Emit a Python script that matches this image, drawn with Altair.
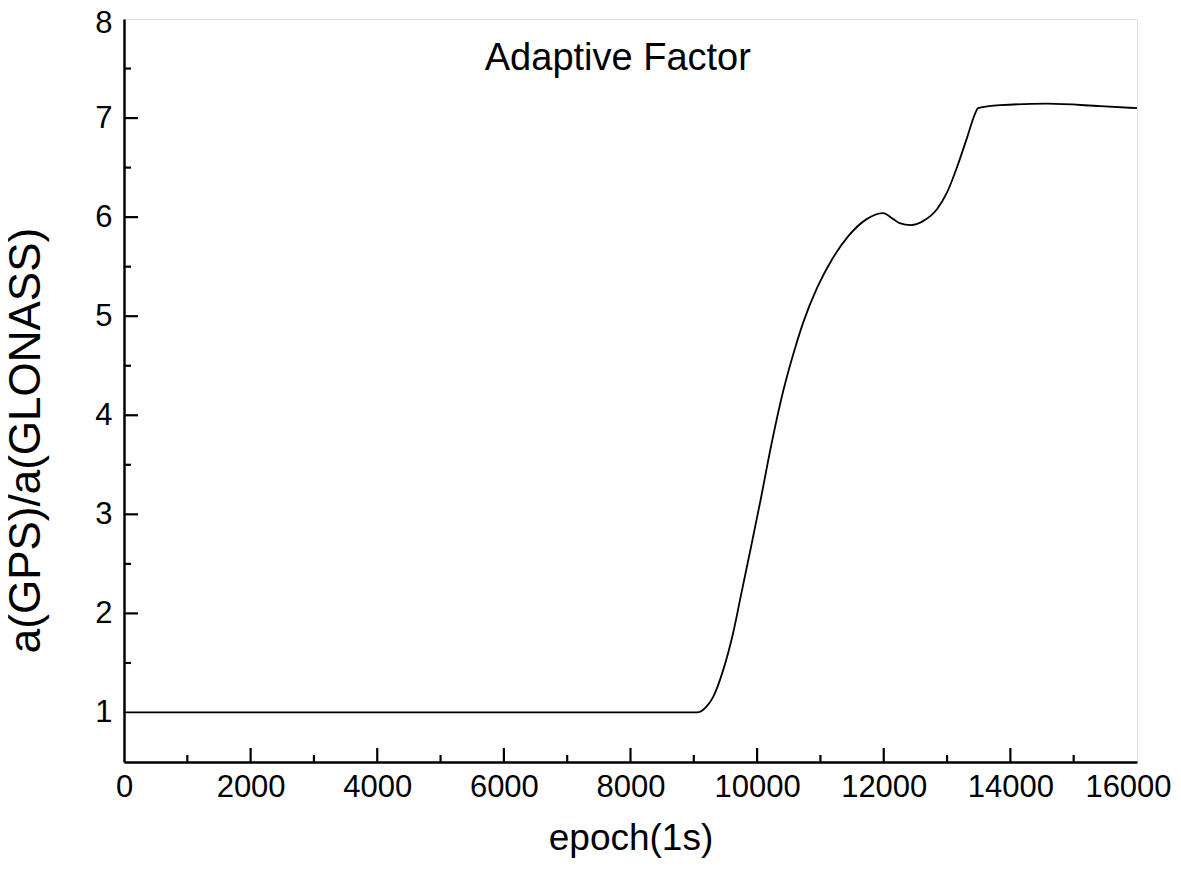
import altair as alt
import pandas as pd

epoch = [0, 2000, 4000, 6000, 8000, 9000, 9050, 9200, 9300, 9460, 9620, 9750, 9900,
         10050, 10230, 10410, 10600, 10730, 10950, 11180, 11430, 11730, 11990,
         12150, 12250, 12430, 12620, 12840, 13000, 13160, 13320, 13440, 13490,
         13840, 14580, 15420, 16000]
ratio = [1.0, 1.0, 1.0, 1.0, 1.0, 1.0, 1.0, 1.06, 1.15, 1.42, 1.80, 2.20, 2.66,
         3.13, 3.72, 4.24, 4.68, 4.94, 5.29, 5.57, 5.80, 5.98, 6.04,
         5.98, 5.94, 5.92, 5.96, 6.08, 6.25, 6.51, 6.81, 7.04, 7.10,
         7.13, 7.145, 7.12, 7.10]

x_major = [0, 2000, 4000, 6000, 8000, 10000, 12000, 14000, 16000]
x_minor = [1000, 3000, 5000, 7000, 9000, 11000, 13000, 15000]
y_major = [1, 2, 3, 4, 5, 6, 7, 8]
y_minor = [1.5, 2.5, 3.5, 4.5, 5.5, 6.5, 7.5]

title_text = ["Adaptive Factor"]
title_pos = [(7800, 7.6)]

W, H = 1013, 743
FONT = "Liberation Sans"

df = pd.DataFrame({"epoch": epoch, "ratio": ratio})

xs = alt.Scale(domain=[0, 16000], nice=False, zero=False)
ys = alt.Scale(domain=[0.5, 8], nice=False, zero=False)

xaxis = alt.Axis(values=x_major, format="d", ticks=False, grid=False,
                 labelFontSize=31, labelPadding=10, labelFont=FONT, labelColor="black",
                 labelOffset={"condition": {"test": "datum.value == 16000", "value": -9}, "value": 0},
                 title="epoch(1s)", titleFontSize=37, titleFont=FONT, titleFontWeight="normal",
                 titlePadding=18, titleColor="black", domainWidth=2.5, domainColor="black",
                 labelFlush=False, labelOverlap=False)
yaxis = alt.Axis(values=y_major, format="d", ticks=False, grid=False,
                 labelFontSize=31, labelPadding=12, labelFont=FONT, labelColor="black",
                 labelOffset={"condition": {"test": "datum.value == 8", "value": 4}, "value": 0},
                 title="a(GPS)/a(GLONASS)", titleFontSize=44, titleFont=FONT, titleFontWeight="normal",
                 titlePadding=46, titleY=421, titleColor="black", domainWidth=2.5, domainColor="black",
                 labelFlush=False, labelOverlap=False)

line = alt.Chart(df).mark_line(color="black", strokeWidth=1.8, interpolate="monotone").encode(
    x=alt.X("epoch:Q", scale=xs, axis=xaxis),
    y=alt.Y("ratio:Q", scale=ys, axis=yaxis),
)

def xticks(vals, length):
    return alt.Chart(pd.DataFrame({"v": vals})).mark_rule(color="black", strokeWidth=2.2).encode(
        x=alt.X("v:Q", scale=xs),
        y=alt.value(H), y2=alt.value(H - length))

def yticks(vals, length):
    return alt.Chart(pd.DataFrame({"v": vals})).mark_rule(color="black", strokeWidth=2.2).encode(
        y=alt.Y("v:Q", scale=ys),
        x=alt.value(0), x2=alt.value(length))

label_df = pd.DataFrame({"x": [p[0] for p in title_pos], "y": [p[1] for p in title_pos], "t": title_text})
label = alt.Chart(label_df).mark_text(font=FONT, fontSize=38, color="black").encode(
    x=alt.X("x:Q", scale=xs), y=alt.Y("y:Q", scale=ys), text="t:N")

chart = alt.layer(
    line,
    xticks(x_major[1:-1], 14), xticks(x_minor, 7),
    yticks(y_major[1:-1], 14), yticks(y_minor, 7),
    label,
).properties(
    width=W, height=H,
    autosize=alt.AutoSizeParams(type="none"),
    padding={"left": 116, "top": 11, "right": 36, "bottom": 105},
).configure_view(stroke="black", strokeWidth=2.5).configure(background="white")

chart.save("out.html", embed_options={"renderer": "svg", "actions": False})
